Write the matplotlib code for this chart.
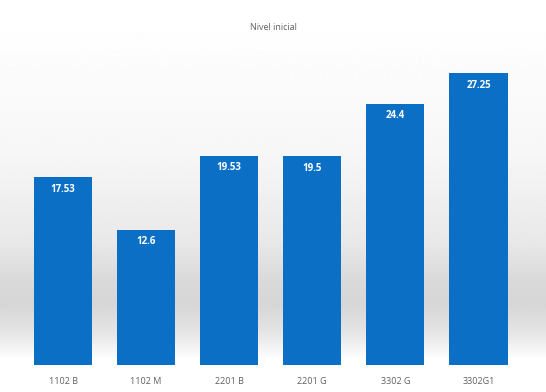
import numpy as np
import matplotlib.pyplot as plt

# data
groups = ['1102 B', '1102 M', '2201 B', '2201 G', '3302 G', '3302G1']
nivel = [17.53, 12.6, 19.53, 19.5, 24.4, 27.25]
value_labels = ['17.53', '12.6', '19.53', '19.5', '24.4', '27.25']

plt.rcParams['font.family'] = ['Open Sans', 'DejaVu Sans']

fig = plt.figure(figsize=(5.46, 3.92), dpi=100)

# background gradient: white at top, grey band near the floor, white below
bg = fig.add_axes([0, 0, 1, 1], zorder=0)
bg.set_axis_off()
yy = np.linspace(0, 1, 400)  # 0 = top
stops_y = [0.0, 0.10, 0.40, 0.62, 0.72, 0.78, 0.85, 0.92, 1.0]
stops_v = [1.0, 0.995, 0.965, 0.91, 0.85, 0.84, 0.90, 1.0, 1.0]
col = np.interp(yy, stops_y, stops_v)
img = np.repeat(col[:, None], 10, axis=1)
bg.imshow(img, cmap='gray', vmin=0, vmax=1, aspect='auto',
          extent=[0, 1, 1, 0], interpolation='bilinear')
bg.set_xlim(0, 1)
bg.set_ylim(1, 0)

ax = fig.add_axes([21.5 / 546, 27 / 392, 498.5 / 546, 321 / 392], zorder=1)
ax.patch.set_alpha(0)
x = np.arange(len(groups))
bars = ax.bar(x, nivel, width=0.7, color='#0b6fc6', zorder=2)

for xi, v, lab in zip(x, nivel, value_labels):
    ax.text(xi, v - 1.1, lab, ha='center', va='center', color='white',
            fontsize=7, fontweight='bold', zorder=3)

ax.set_xlim(-0.5, len(groups) - 0.5)
ax.set_ylim(0, 30)
ax.set_yticks([])
ax.set_xticks(x)
ax.set_xticklabels(groups, fontsize=6.5, color='#606060')
ax.tick_params(axis='x', length=0, pad=9)
for s in ax.spines.values():
    s.set_visible(False)

fig.text(0.5, 1 - 28 / 392, 'Nivel inicial', ha='center', va='center',
         fontsize=6.5, color='#606060')

fig.savefig('out.png', dpi=100)
